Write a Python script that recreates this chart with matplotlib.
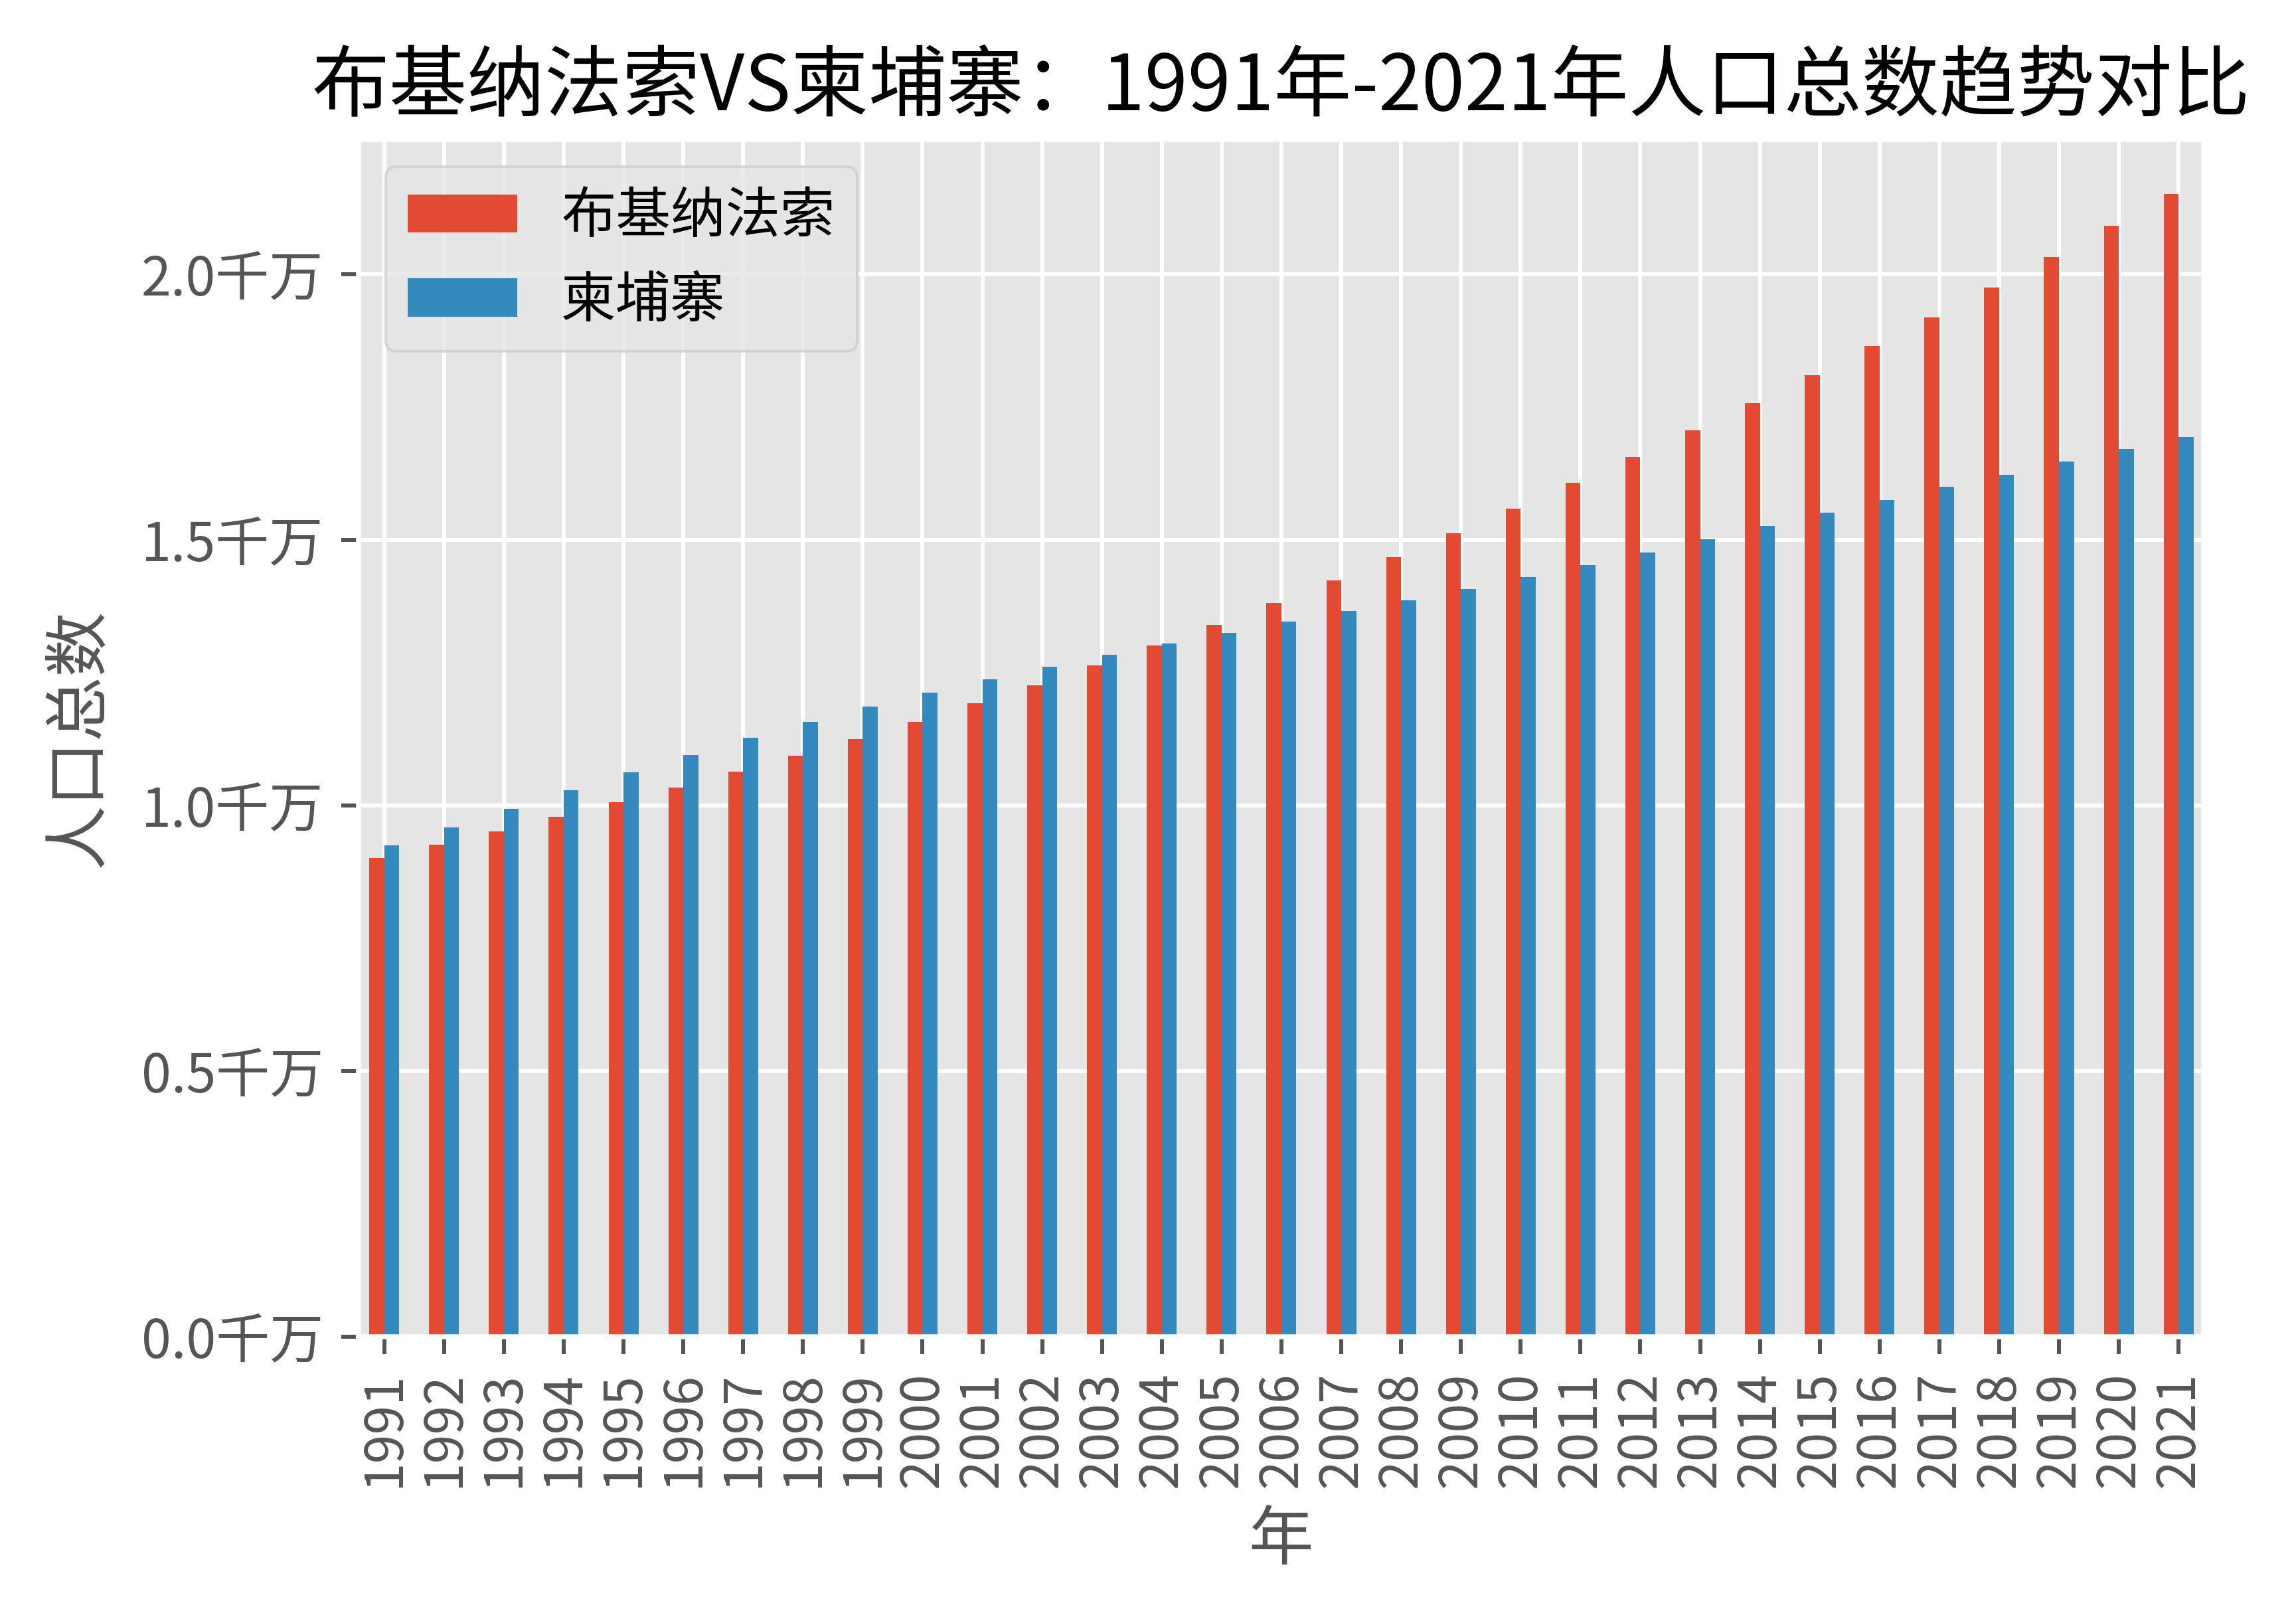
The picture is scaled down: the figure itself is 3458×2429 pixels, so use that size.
import numpy as np
import matplotlib
matplotlib.use("Agg")
import matplotlib.pyplot as plt
from matplotlib.ticker import FuncFormatter, MultipleLocator

# ---- data (population, unit: 千万 = 10 million) ----
years = list(range(1991, 2022))
burkina = [0.901, 0.926, 0.951, 0.979, 1.006, 1.034, 1.064, 1.094, 1.125, 1.158,
           1.193, 1.226, 1.264, 1.301, 1.340, 1.381, 1.424, 1.468, 1.513, 1.559,
           1.608, 1.656, 1.706, 1.758, 1.810, 1.865, 1.919, 1.975, 2.033, 2.092,
           2.151]
cambodia = [0.925, 0.959, 0.994, 1.029, 1.063, 1.095, 1.128, 1.158, 1.186, 1.213,
            1.238, 1.261, 1.284, 1.305, 1.325, 1.346, 1.366, 1.386, 1.408, 1.430,
            1.453, 1.476, 1.501, 1.527, 1.551, 1.575, 1.600, 1.623, 1.648, 1.671,
            1.694]
series_names = ["布基纳法索", "柬埔寨"]
title = "布基纳法索VS柬埔寨：1991年-2021年人口总数趋势对比"
xlabel = "年"
ylabel = "人口总数"

plt.style.use("ggplot")
plt.rcParams["font.family"] = ["Noto Sans CJK SC", "DejaVu Sans"]
plt.rcParams["axes.unicode_minus"] = False

DPI = 540
fig = plt.figure(figsize=(3458 / DPI, 2429 / DPI), dpi=DPI)
ax = fig.add_axes([540 / 3458, 1 - 2013 / 2429, (3319 - 540) / 3458, (2013 - 210) / 2429])

x = np.arange(len(years))
w = 0.25
ax.bar(x - w / 2, burkina, width=w, color="#E24A33", label=series_names[0])
ax.bar(x + w / 2, cambodia, width=w, color="#348ABD", label=series_names[1])

ax.set_xticks(x)
ax.set_xticklabels([str(y) for y in years], rotation=90, fontsize=10.5)
ax.set_xlim(-0.43, len(years) - 1 + 0.42)
ax.set_ylim(0, 2.254)
ax.yaxis.set_major_locator(MultipleLocator(0.5))
ax.yaxis.set_major_formatter(FuncFormatter(lambda v, p: f"{v:.1f}千万"))
ax.tick_params(axis="y", labelsize=10.8)

ax.set_xlabel(xlabel, fontsize=13)
ax.set_ylabel(ylabel, fontsize=13, labelpad=6)
ax.set_title(title, fontsize=15.6, color="black")

ax.legend(loc="upper left", fontsize=11)

fig.savefig("out.png", dpi=DPI)
